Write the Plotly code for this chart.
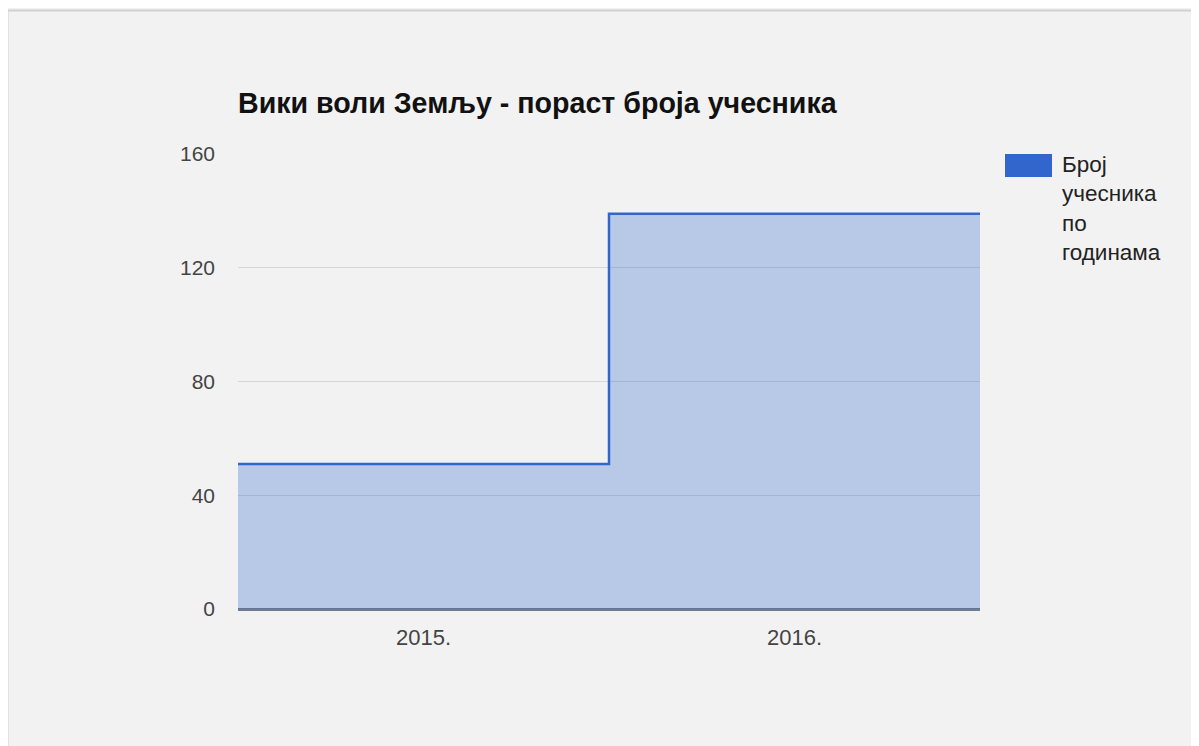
import plotly.graph_objects as go

# ---- data ----
years = ["2015.", "2016."]
participants = [51, 139]
series_name = "Број учесника по годинама"
title_text = "Вики воли Земљу - пораст броја учесника"
y_ticks = [0, 40, 80, 120, 160]

# step edges (category bands)
x_edges = list(range(len(years) + 1))
y_steps = participants + participants[-1:]

# page body has an 8px margin; compensate so the picture lines up
OFF = 8
VW, VH = 1199, 746
W, H = VW - OFF, VH - OFF
L = 238 - OFF
R = W - (980 - OFF)
T = 154 - OFF
B = H - (609 - OFF)
pw, ph = W - L - R, H - T - B

def px(x):
    return (x - OFF - L) / pw

def py(y):
    return (H - B - (y - OFF)) / ph

BLUE = "#3366cc"
FONT = "Liberation Sans, Arial, sans-serif"

fig = go.Figure()
fig.add_trace(go.Scatter(
    x=x_edges, y=y_steps, mode="lines", line_shape="hv",
    line=dict(color=BLUE, width=2.5),
    fill="tozeroy", fillcolor="rgba(51,102,204,0.3)",
    name=series_name, showlegend=False, hoverinfo="y",
))

fig.update_layout(
    width=W, height=H,
    margin=dict(l=L, r=R, t=T, b=B),
    paper_bgcolor="#f2f2f2", plot_bgcolor="#f2f2f2",
    font=dict(family=FONT, color="#444444"),
    title=dict(text="<b>" + title_text + "</b>", x=px(238), xanchor="left",
               xref="paper", y=1 - (103 - OFF) / H, yanchor="middle",
               font=dict(size=28.6, color="#111111", family=FONT)),
    xaxis=dict(range=[0, len(years)], tickvals=[i + 0.5 for i in range(len(years))],
               ticktext=years, showgrid=False, zeroline=False, showline=False,
               ticks="", tickfont=dict(size=22, color="#444444"),
               ticklabelstandoff=13, fixedrange=True),
    yaxis=dict(range=[0, 160], tickvals=y_ticks, showgrid=True,
               gridcolor="#d6d6d6", gridwidth=1, zeroline=True,
               zerolinecolor="#737b8c", zerolinewidth=3, showline=False,
               ticks="", tickfont=dict(size=21, color="#444444"),
               ticklabelstandoff=22, fixedrange=True),
    showlegend=False,
)

# legend (custom, sized like the reference)
fig.add_shape(type="rect", xref="paper", yref="paper",
              x0=px(1005), x1=px(1052), y0=py(177), y1=py(154),
              fillcolor=BLUE, line=dict(width=0), layer="above")
fig.add_annotation(xref="paper", yref="paper", x=px(1060), y=py(150),
                   xanchor="left", yanchor="top", align="left", showarrow=False,
                   text="<br>".join(series_name.split(" ")),
                   font=dict(size=22.5, color="#222222", family=FONT))

# outer frame (top and left edges visible in reference)
fig.add_shape(type="line", xref="paper", yref="paper",
              x0=px(7.5), x1=px(7.5), y0=py(VH + 10), y1=py(10.5),
              line=dict(color="#d0d0d0", width=2))
fig.add_shape(type="line", xref="paper", yref="paper",
              x0=px(7.5), x1=px(VW + 10), y0=py(10.5), y1=py(10.5),
              line=dict(color="#d0d0d0", width=2))

fig.write_html("out.html")
